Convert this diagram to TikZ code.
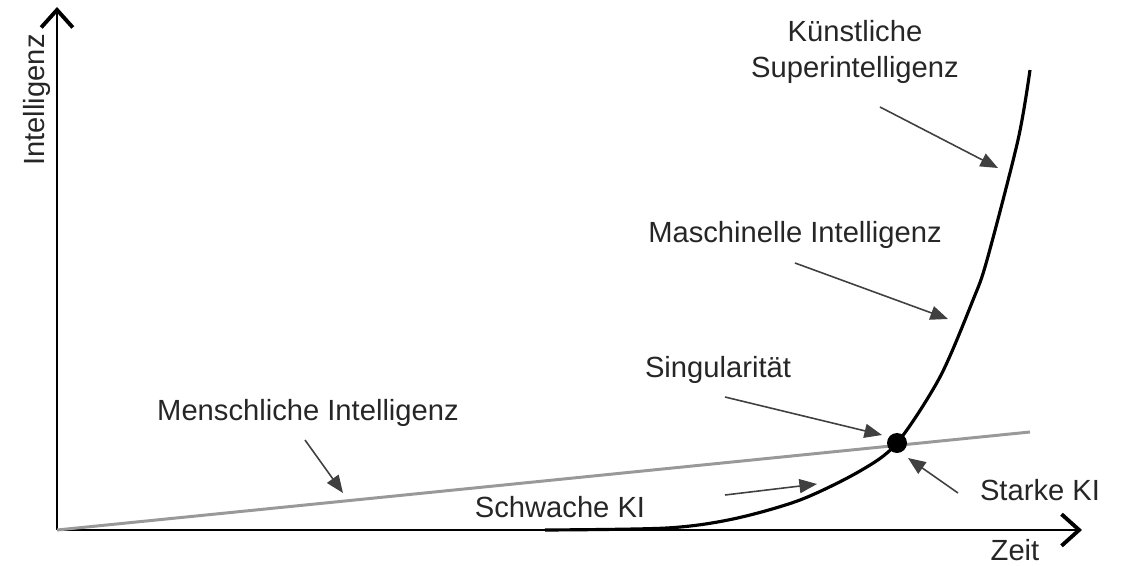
\documentclass[tikz,border=0pt]{standalone}
\usepackage{fontspec}
\setmainfont{Liberation Sans}
\usetikzlibrary{arrows.meta}

\tikzset{
  axis/.style={line width=0.85pt, -{Straight Barb[length=5pt,width=9pt,line width=1.1pt]}},
  pointer/.style={line width=0.45pt, draw=black!75, -{Triangle[length=5pt,width=4pt]}},
  label/.style={font=\fontsize{8.3}{10.5}\selectfont, text=black!85, inner sep=0pt, align=center}
}

\begin{document}
\begin{tikzpicture}

    % Fix the frame of the picture
    \useasboundingbox (0,0) rectangle (11.45,5.65);

    % Define the origin O of both axes
    \coordinate (O) at (0.57,0.35);

    % Draw the axes
    \coordinate (Ytop) at (0.57,5.58);
    \coordinate (Xend) at (10.82,0.35);
    \draw[axis] (O) -- (Ytop);
    \draw[axis] (O) -- (Xend);
    % Axis labels
    \node[label, rotate=90] (yLabel) at (0.37,4.65) {Intelligenz};
    \node[label] (xLabel) at (10.15,0.15) {Zeit};

    % Human intelligence grows slowly (grey line)
    \coordinate (H) at (10.30,1.33);
    \draw[line width=0.85pt, black!40] (O) -- (H);

    % The singularity point S where both lines cross
    \coordinate (S) at (8.97,1.22);

    % Machine intelligence grows fast (black curve)
    \draw[line width=0.9pt] plot[smooth, tension=0.5] coordinates {
        (5.45,0.35) (6.67,0.37) (7.33,0.46) (8.00,0.65) (8.60,0.94)
        (S) (9.40,1.88) (9.73,2.65) (9.87,3.05) (10.18,4.25) (10.30,4.95)};
    \fill (S) circle (0.1);

    % Labels
    \node[label] (ksi) at (8.55,5.13) {Künstliche\\Superintelligenz};
    \node[label] (mi) at (7.95,3.30) {Maschinelle Intelligenz};
    \node[label] (sing) at (7.18,1.95) {Singularität};
    \node[label] (mensch) at (3.08,1.52) {Menschliche Intelligenz};
    \node[label] (schwach) at (5.60,0.58) {Schwache KI};
    \node[label] (stark) at (10.40,0.75) {Starke KI};

    % Pointer ends
    \coordinate (ksiA) at (8.80,4.58);
    \coordinate (ksiB) at (9.98,3.97);
    \coordinate (miA) at (7.95,3.02);
    \coordinate (miB) at (9.48,2.46);
    \coordinate (singA) at (7.25,1.68);
    \coordinate (singB) at (8.82,1.30);
    \coordinate (menschA) at (3.05,1.25);
    \coordinate (menschB) at (3.43,0.72);
    \coordinate (schwachA) at (7.25,0.70);
    \coordinate (schwachB) at (8.17,0.81);
    \coordinate (starkA) at (9.58,0.72);
    \coordinate (starkB) at (9.08,1.07);

    % Pointers from the labels to the lines
    \draw[pointer] (ksiA) -- (ksiB);
    \draw[pointer] (miA) -- (miB);
    \draw[pointer] (singA) -- (singB);
    \draw[pointer] (menschA) -- (menschB);
    \draw[pointer] (schwachA) -- (schwachB);
    \draw[pointer] (starkA) -- (starkB);

\end{tikzpicture}
\end{document}
